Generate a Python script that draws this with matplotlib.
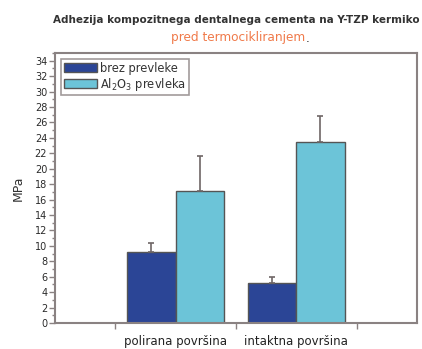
import matplotlib
matplotlib.use("Agg")
import matplotlib.pyplot as plt
from matplotlib.ticker import MultipleLocator, FixedLocator
import numpy as np

plt.rcParams['font.family'] = ['DejaVu Sans']

categories = ["polirana površina", "intaktna površina"]
series_names = ["brez prevleke", "Al$_2$O$_3$ prevleka"]
brez_vals = [9.2, 5.2]
brez_err = [1.2, 0.8]
al2o3_vals = [17.1, 23.5]
al2o3_err = [4.6, 3.4]
y_ticks = list(range(0, 35, 2))

dark = "#2b4596"
light = "#6cc4d8"
edge = "#555555"
frame = "#8a8282"

fig = plt.figure(figsize=(4.22, 3.49), dpi=100)
ax = fig.add_axes([0.130, 0.0745, 0.858, 0.7735])

x = np.arange(1, len(categories) + 1)
w = 0.4
ax.bar(x - w / 2, brez_vals, w, color=dark, edgecolor=edge, linewidth=1.0,
       label=series_names[0], zorder=2)
ax.bar(x + w / 2, al2o3_vals, w, color=light, edgecolor=edge, linewidth=1.0,
       label=series_names[1], zorder=2)
ax.errorbar(x - w / 2, brez_vals, yerr=[np.zeros(len(brez_err)), brez_err],
            fmt="none", ecolor="#6e6666", elinewidth=1.2, capsize=2, capthick=1.2, zorder=3)
ax.errorbar(x + w / 2, al2o3_vals, yerr=[np.zeros(len(al2o3_err)), al2o3_err],
            fmt="none", ecolor="#6e6666", elinewidth=1.2, capsize=2, capthick=1.2, zorder=3)

ax.set_xlim(0, 3)
ax.set_ylim(0, 35)
ax.set_yticks(y_ticks)
ax.yaxis.set_minor_locator(MultipleLocator(1))
ax.set_xticks(x)
ax.set_xticklabels(categories, fontsize=8.5, color="#222222")
ax.xaxis.set_minor_locator(FixedLocator([0.5, 1.5, 2.5]))
ax.tick_params(axis="x", which="major", length=0, pad=9)
ax.tick_params(axis="x", which="minor", length=4, width=1, color=frame, direction="out")
ax.tick_params(axis="y", which="major", length=4, width=1, color=frame, labelsize=7,
               labelcolor="#2a2a2a", pad=1.5)
ax.tick_params(axis="y", which="minor", length=2, width=1, color=frame)

for s in ax.spines.values():
    s.set_color(frame)
    s.set_linewidth(1.5)

ax.set_ylabel("MPa", fontsize=9, color="#333333", labelpad=7)

leg = ax.legend(loc="upper left", bbox_to_anchor=(0.008, 0.99), fontsize=8.3,
                frameon=True, fancybox=False, handlelength=2.9, handleheight=0.9,
                handletextpad=0.3, borderpad=0.2, labelspacing=0.1,
                borderaxespad=0.3)
leg.get_frame().set_edgecolor(frame)
leg.get_frame().set_linewidth(1.2)
for t in leg.get_texts():
    t.set_color("#333333")

cx = 0.130 + 0.858 / 2
fig.text(cx, 1 - 20 / 349, "Adhezija kompozitnega dentalnega cementa na Y-TZP kermiko",
         ha="center", va="center", fontsize=7.45, color="#333333", fontweight="bold")
t1 = fig.text(240 / 422 - 0.004, 1 - 38 / 349, "pred termocikliranjem",
              ha="center", va="center", fontsize=8.7, color="#f07a4a")
fig.canvas.draw()
bb = t1.get_window_extent()
fig.text(bb.x1 / fig.bbox.width, 1 - 38 / 349, ".", ha="left", va="center",
         fontsize=8.7, color="#333333")

fig.savefig("out.png", dpi=100)
